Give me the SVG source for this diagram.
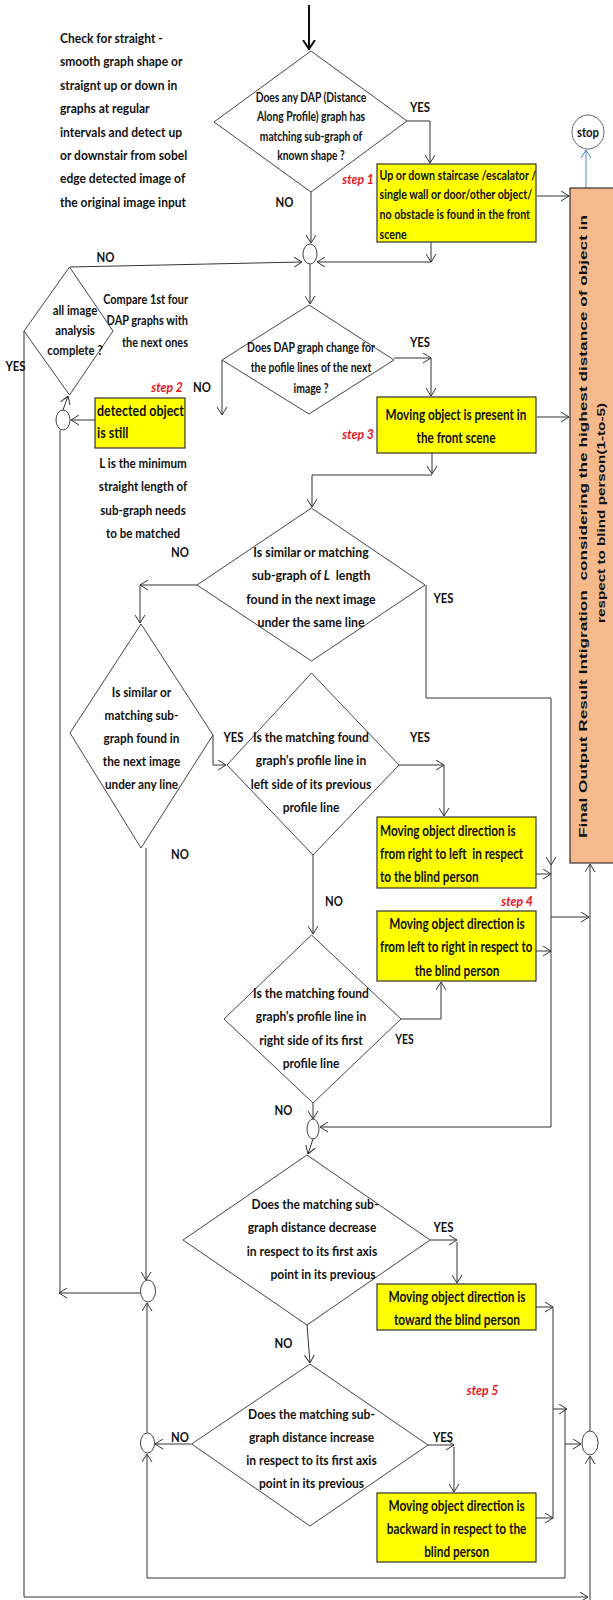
<svg xmlns="http://www.w3.org/2000/svg" width="613" height="1600" viewBox="0 0 613 1600">
<defs>
<style>
.c{fill:none;stroke:#333;stroke-width:1}
.ca{fill:none;stroke:#333;stroke-width:1;marker-end:url(#ah)}
.d{fill:#fff;stroke:#444;stroke-width:1}
.y{fill:#ffff00;stroke:#333;stroke-width:1.2}
.j{fill:#fff;stroke:#444;stroke-width:1}
.t{font-family:Lato,"Liberation Sans",sans-serif;font-weight:700;font-size:14px;fill:#111}
.t13{font-size:13px}
.tb{font-size:14.5px}
.m{text-anchor:middle}
.e{text-anchor:end}
.s{font-family:Lato,"Liberation Sans",sans-serif;font-weight:700;font-style:italic;font-size:14px;fill:#e8141c;text-anchor:middle}
.lab{font-family:Lato,"Liberation Sans",sans-serif;font-weight:700;font-size:13px;fill:#111;text-anchor:middle}
.rot{font-family:"Liberation Sans",Arial,sans-serif;font-weight:700;font-size:15px;fill:#111;text-anchor:middle}
</style>
<marker id="ah" viewBox="0 0 8 11" refX="8" refY="5.5" markerWidth="8" markerHeight="11" markerUnits="userSpaceOnUse" orient="auto">
<path d="M0,0.5 L8,5.5 L0,10.5" fill="none" stroke="#333" stroke-width="1"/>
</marker>
<marker id="ahb" viewBox="0 0 10 14" refX="9" refY="7" markerWidth="10" markerHeight="14" markerUnits="userSpaceOnUse" orient="auto">
<path d="M0,1 L9,7 L0,13" fill="none" stroke="#111" stroke-width="2"/>
</marker>
<marker id="ahblue" viewBox="0 0 8 11" refX="8" refY="5.5" markerWidth="8" markerHeight="11" markerUnits="userSpaceOnUse" orient="auto">
<path d="M0,0.5 L8,5.5 L0,10.5" fill="none" stroke="#4f81bd" stroke-width="1"/>
</marker>
</defs>
<rect width="613" height="1600" fill="#fff"/>

<!-- connectors -->
<g id="connectors">
<path d="M309,5 V49" fill="none" stroke="#111" stroke-width="2" marker-end="url(#ahb)"/>
<path class="ca" d="M407,121 H430 V163"/>
<path class="ca" d="M311,192 V243"/>
<path class="ca" d="M431,242 V262"/>
<path class="ca" d="M431,262 H317"/>
<path class="ca" d="M70,267 L302,262"/>
<path class="ca" d="M310,264 V304"/>
<path class="ca" d="M394,358 H431"/>
<path class="ca" d="M431,358 V396"/>
<path class="ca" d="M222,360 V415"/>
<path class="ca" d="M95,420 H71"/>
<path class="ca" d="M63,410 L68,396"/>
<path class="ca" d="M140,1293 H59"/>
<path class="c" d="M60,1293 V430"/>
<path class="ca" d="M24,331 V1597 H588"/>
<path class="ca" d="M590,1600 V1456"/>
<path class="ca" d="M197,585 H140"/>
<path class="ca" d="M140,585 V623"/>
<path class="ca" d="M426,585 V698 H551 V865"/>
<path class="ca" d="M551,865 V1127 H320"/>
<path class="ca" d="M213,735 V765 H226"/>
<path class="ca" d="M399,765 H444"/>
<path class="ca" d="M444,765 V816"/>
<path class="ca" d="M536,874 H551"/>
<path class="ca" d="M313,855 V934"/>
<path class="ca" d="M536,951 H551"/>
<path class="ca" d="M551,917 H589"/>
<path class="ca" d="M401,1019 H441 V982"/>
<path class="ca" d="M313,1103 V1119"/>
<path class="ca" d="M313,1139 L308,1154"/>
<path class="ca" d="M146,848 V1280"/>
<path class="ca" d="M430,1240 H457"/>
<path class="ca" d="M457,1242 V1283"/>
<path class="ca" d="M536,1307 H553"/>
<path class="c" d="M553,1307 V1518"/>
<path class="ca" d="M553,1409 H567"/>
<path class="ca" d="M565,1409 V1578 H147 V1454"/>
<path class="ca" d="M565,1444 H581"/>
<path class="ca" d="M307,1325 L310,1363"/>
<path class="ca" d="M191,1444 H155"/>
<path class="ca" d="M147,1433 V1303"/>
<path class="ca" d="M428,1445 H454"/>
<path class="ca" d="M454,1447 V1492"/>
<path class="ca" d="M536,1518 H553"/>
<path class="ca" d="M590,1431 V864"/>
<path class="ca" d="M537,196 H569"/>
<path class="ca" d="M537,417 H569"/>
<path d="M586,188 V150" fill="none" stroke="#4f81bd" stroke-width="1" marker-end="url(#ahblue)"/>
<path class="ca" d="M432,453 V474"/>
<path class="ca" d="M432,475 H312 V507"/>
<path class="c" d="M320,1302 L313,1308 L320,1313"/>
</g>

<!-- side notes -->
<g id="note-check">
<text class="t" transform="translate(60,43) scale(0.86,1)"><tspan x="0">Check for straight -</tspan><tspan x="0" dy="23.4">smooth graph shape or</tspan><tspan x="0" dy="23.4">straignt up or down in</tspan><tspan x="0" dy="23.4">graphs at regular</tspan><tspan x="0" dy="23.4">intervals and detect up</tspan><tspan x="0" dy="23.4">or downstair from sobel</tspan><tspan x="0" dy="23.4">edge detected image of</tspan><tspan x="0" dy="23.4">the original image input</tspan></text>
</g>
<g id="note-compare">
<text class="t t13 e" transform="translate(188,303.6) scale(0.84,1)"><tspan x="0">Compare 1st four</tspan><tspan x="0" dy="21.5">DAP graphs with</tspan><tspan x="0" dy="21.5">the next ones</tspan></text>
</g>
<g id="note-length">
<text class="t m" transform="translate(143,468) scale(0.83,1)"><tspan x="0">L is the minimum</tspan><tspan x="0" dy="23.5">straight length of</tspan><tspan x="0" dy="23.5">sub-graph needs</tspan><tspan x="0" dy="23.5">to be matched</tspan></text>
</g>

<!-- decisions -->
<g id="dec-known-shape">
<polygon class="d" points="311,51 407,121 311,192 214,122"/>
<text class="t t13 m" transform="translate(311,101.5) scale(0.79,1)"><tspan x="0">Does any DAP (Distance</tspan><tspan x="0" dy="19.6">Along Profile) graph has</tspan><tspan x="0" dy="19.6">matching sub-graph of</tspan><tspan x="0" dy="19.6">known shape ?</tspan></text>
</g>
<g id="dec-all-done">
<polygon class="d" points="69.5,267 113,331 69.5,395 24,331"/>
<text class="t t13 m" transform="translate(75,314.7) scale(0.88,1)"><tspan x="0">all image</tspan><tspan x="0" dy="20">analysis</tspan><tspan x="0" dy="20">complete ?</tspan></text>
</g>
<g id="dec-graph-change">
<polygon class="d" points="309,305 394,360 309,414 222,360"/>
<text class="t t13 m" transform="translate(311,351.6) scale(0.8,1)"><tspan x="0">Does DAP graph change for</tspan><tspan x="0" dy="20.5">the pofile lines of the next</tspan><tspan x="0" dy="20.5">image ?</tspan></text>
</g>
<g id="dec-same-line">
<polygon class="d" points="311.5,508 425,585 311.5,661 197,585"/>
<text class="t m" transform="translate(311,557) scale(0.88,1)" xml:space="preserve"><tspan x="0">Is similar or matching</tspan><tspan x="0" dy="23.3">sub-graph of <tspan font-style="italic">L</tspan>  length</tspan><tspan x="0" dy="23.3">found in the next image</tspan><tspan x="0" dy="23.3">under the same line</tspan></text>
</g>
<g id="dec-any-line">
<polygon class="d" points="141,624 213,735 141,848 70,733"/>
<text class="t m" transform="translate(141.5,697) scale(0.84,1)"><tspan x="0">Is similar or</tspan><tspan x="0" dy="23">matching sub-</tspan><tspan x="0" dy="23">graph found in</tspan><tspan x="0" dy="23">the next image</tspan><tspan x="0" dy="23">under any line</tspan></text>
</g>
<g id="dec-left-side">
<polygon class="d" points="311.5,673 399,765 313,855 227,765"/>
<text class="t m" transform="translate(311,742) scale(0.86,1)"><tspan x="0">Is the matching found</tspan><tspan x="0" dy="23.3">graph's profile line in</tspan><tspan x="0" dy="23.3">left side of its previous</tspan><tspan x="0" dy="23.3">profile line</tspan></text>
</g>
<g id="dec-right-side">
<polygon class="d" points="311.5,935 401,1019 313,1103 224,1019"/>
<text class="t m" transform="translate(311,998) scale(0.86,1)"><tspan x="0">Is the matching found</tspan><tspan x="0" dy="23.3">graph's profile line in</tspan><tspan x="0" dy="23.3">right side of its first</tspan><tspan x="0" dy="23.3">profile line</tspan></text>
</g>
<g id="dec-decrease">
<polygon class="d" points="307,1155 430,1240 307,1325 183,1240"/>
<text class="t m" transform="translate(312,1209) scale(0.86,1)"><tspan x="3.5">Does the matching sub-</tspan><tspan x="0" dy="23.3">graph distance decrease</tspan><tspan x="0" dy="23.3">in respect to its first axis</tspan><tspan x="12.8" dy="23.3">point in its previous</tspan></text>
</g>
<g id="dec-increase">
<polygon class="d" points="310,1364 428,1445 310,1526 191.6,1444"/>
<text class="t m" transform="translate(311.5,1419) scale(0.86,1)"><tspan x="0">Does the matching sub-</tspan><tspan x="0" dy="23">graph distance increase</tspan><tspan x="0" dy="23">in respect to its first axis</tspan><tspan x="0" dy="23">point in its previous</tspan></text>
</g>

<!-- result boxes -->
<g id="box-obstacle">
<rect class="y" x="377" y="164" width="159" height="78"/>
<text class="t t13" transform="translate(379.5,179.5) scale(0.82,1)"><tspan x="0">Up or down staircase /escalator /</tspan><tspan x="0" dy="20">single wall or door/other object/</tspan><tspan x="0" dy="20">no obstacle is found in the front</tspan><tspan x="0" dy="20">scene</tspan></text>
</g>
<g id="box-still">
<rect class="y" x="95" y="398" width="90" height="50"/>
<text class="t tb" transform="translate(97,416) scale(0.86,1)"><tspan x="0">detected object</tspan><tspan x="0" dy="22">is still</tspan></text>
</g>
<g id="box-moving">
<rect class="y" x="377" y="397" width="159" height="56"/>
<text class="t tb m" transform="translate(456,420) scale(0.81,1)"><tspan x="0">Moving object is present in</tspan><tspan x="0" dy="23">the front scene</tspan></text>
</g>
<g id="box-right-left">
<rect class="y" x="377" y="817" width="159" height="71"/>
<text class="t tb" transform="translate(380,836) scale(0.81,1)" xml:space="preserve"><tspan x="0">Moving object direction is</tspan><tspan x="0" dy="23">from right to left  in respect</tspan><tspan x="0" dy="23">to the blind person</tspan></text>
</g>
<g id="box-left-right">
<rect class="y" x="377" y="911" width="159" height="70"/>
<text class="t tb m" transform="translate(457,929) scale(0.81,1)">Moving object direction is</text>
<text class="t tb" transform="translate(380,952) scale(0.8,1)">from left to right in respect to</text>
<text class="t tb m" transform="translate(457,976) scale(0.81,1)">the blind person</text>
</g>
<g id="box-toward">
<rect class="y" x="377" y="1284" width="159" height="46"/>
<text class="t tb m" transform="translate(457,1302) scale(0.82,1)"><tspan x="0">Moving object direction is</tspan><tspan x="0" dy="23">toward the blind person</tspan></text>
</g>
<g id="box-backward">
<rect class="y" x="377" y="1493" width="159" height="69"/>
<text class="t tb m" transform="translate(456.6,1511) scale(0.815,1)"><tspan x="0">Moving object direction is</tspan><tspan x="0" dy="23">backward in respect to the</tspan><tspan x="0" dy="23">blind person</tspan></text>
</g>

<!-- final output and stop -->
<g id="final-output">
<rect x="570" y="188" width="46" height="675" fill="#f5b98b" stroke="#333" stroke-width="1.2"/>
<text class="rot" transform="translate(587,526.5) scale(0.75,1) rotate(-90)" textLength="623" lengthAdjust="spacingAndGlyphs" xml:space="preserve">Final Output Result Intigration  considering the highest distance of object in</text>
<text class="rot" transform="translate(605,513) scale(0.75,1) rotate(-90)" textLength="220" lengthAdjust="spacingAndGlyphs">respect to blind person(1-to-5)</text>
</g>
<g id="stop">
<ellipse cx="588" cy="132" rx="16" ry="17" fill="#fff" stroke="#666" stroke-width="1"/>
<text class="lab" transform="translate(588,136.5) scale(0.87,1)">stop</text>
</g>

<!-- junction circles -->
<g id="junctions">
<ellipse id="j1" class="j" cx="310" cy="254" rx="7" ry="10"/>
<ellipse id="j2" class="j" cx="63" cy="420" rx="7" ry="10"/>
<ellipse id="j3" class="j" cx="313" cy="1129" rx="6" ry="10"/>
<ellipse id="j4" class="j" cx="148" cy="1291" rx="7.5" ry="11"/>
<ellipse id="j5" class="j" cx="590" cy="1443" rx="8" ry="12"/>
<ellipse id="j6" class="j" cx="147.5" cy="1443" rx="7" ry="10"/>
</g>

<!-- step tags -->
<g id="steps">
<text class="s" transform="translate(358,183.5) scale(0.87,1)">step 1</text>
<text class="s" transform="translate(167,391.5) scale(0.87,1)">step 2</text>
<text class="s" transform="translate(358,438.5) scale(0.87,1)">step 3</text>
<text class="s" transform="translate(517,905.5) scale(0.87,1)">step 4</text>
<text class="s" transform="translate(482.5,1394.5) scale(0.87,1)">step 5</text>
</g>

<!-- branch labels -->
<g id="labels">
<text class="lab" transform="translate(420,111.5) scale(0.87,1)">YES</text>
<text class="lab" transform="translate(284.5,206.5) scale(0.87,1)">NO</text>
<text class="lab" transform="translate(105.5,261.5) scale(0.87,1)">NO</text>
<text class="lab" transform="translate(15.5,370.5) scale(0.87,1)">YES</text>
<text class="lab" transform="translate(420,346.6) scale(0.87,1)">YES</text>
<text class="lab" transform="translate(202,391.5) scale(0.87,1)">NO</text>
<text class="lab" transform="translate(180,556.5) scale(0.87,1)">NO</text>
<text class="lab" transform="translate(443.5,602.5) scale(0.87,1)">YES</text>
<text class="lab" transform="translate(233.5,741.5) scale(0.87,1)">YES</text>
<text class="lab" transform="translate(420,741.5) scale(0.87,1)">YES</text>
<text class="lab" transform="translate(180,858.5) scale(0.87,1)">NO</text>
<text class="lab" transform="translate(334,905.5) scale(0.87,1)">NO</text>
<text class="lab" transform="translate(404.5,1044) scale(0.8,1)" font-size="12">YES</text>
<text class="lab" transform="translate(283.5,1114.5) scale(0.87,1)">NO</text>
<text class="lab" transform="translate(443.5,1231.5) scale(0.87,1)">YES</text>
<text class="lab" transform="translate(283.5,1347.5) scale(0.87,1)">NO</text>
<text class="lab" transform="translate(180,1441.5) scale(0.87,1)">NO</text>
<text class="lab" transform="translate(443,1441.5) scale(0.87,1)">YES</text>
</g>
</svg>
